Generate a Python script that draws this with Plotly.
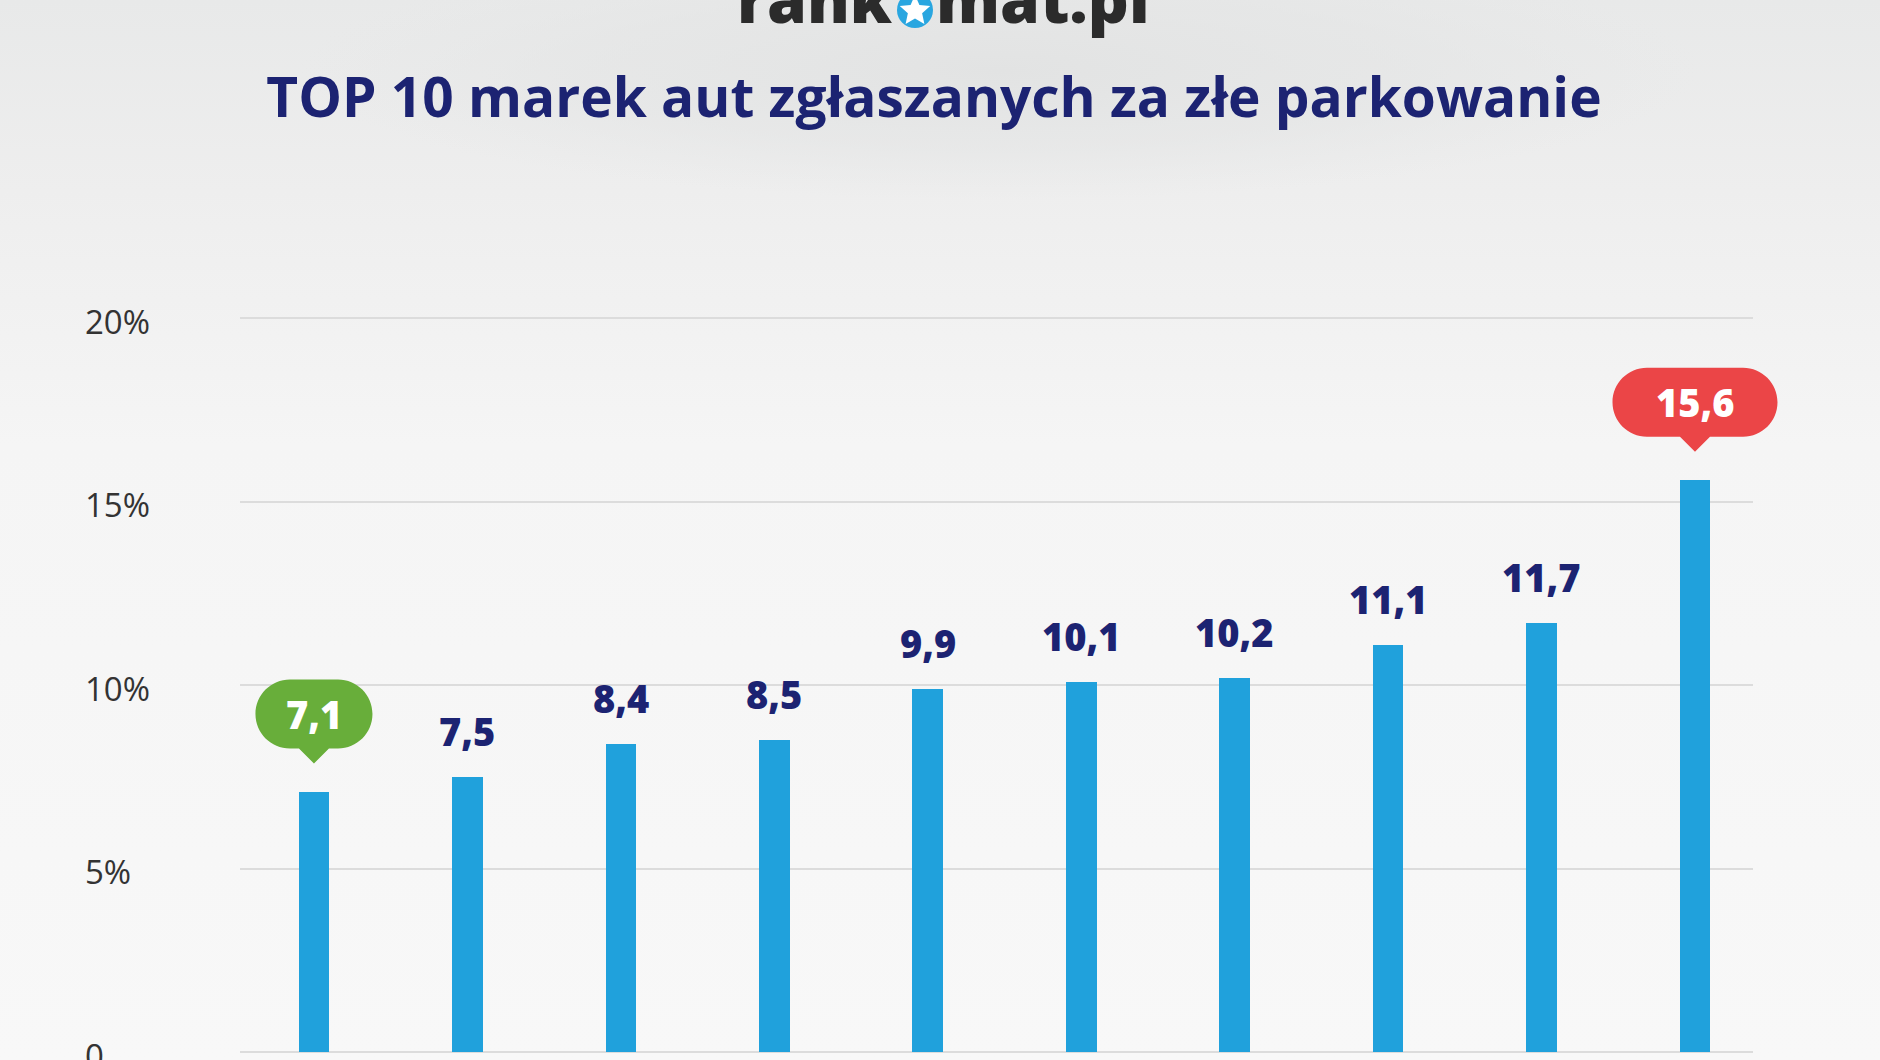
import base64
import math
import plotly.graph_objects as go

# ---- data ----
ranks = [1, 2, 3, 4, 5, 6, 7, 8, 9, 10]
values = [7.1, 7.5, 8.4, 8.5, 9.9, 10.1, 10.2, 11.1, 11.7, 15.6]
tick_vals = [0, 5, 10, 15, 20]
tick_text = ["0", "5%", "10%", "15%", "20%"]
title_text = "TOP 10 marek aut zgłaszanych za złe parkowanie"

# ---- layout geometry (pixels) ----
W, H = 1880, 1060
L, R, T, B = 240, 127, 245, 8
PW, PH = W - L - R, H - T - B
X_RANGE = [0.518, 10.378]
Y_RANGE = [0, 22]


def px_x(px):
    return (px - L) / PW


def px_y(py):
    return (H - B - py) / PH


def dom_x(v):
    return (v - X_RANGE[0]) / (X_RANGE[1] - X_RANGE[0])


def dom_y(v):
    return (v - Y_RANGE[0]) / (Y_RANGE[1] - Y_RANGE[0])


NAVY = "#1c2372"
BLUE = "#20a1dc"
GREEN = "#68ae3a"
RED = "#eb4547"
FONT = "Open Sans"

fmt = [f"{v:.1f}".replace(".", ",") for v in values]
i_min = values.index(min(values))
i_max = values.index(max(values))

fig = go.Figure()
fig.add_trace(go.Bar(x=ranks, y=values, width=0.2,
                     marker=dict(color=BLUE, line=dict(width=0)),
                     hoverinfo="skip"))

annotations = []
shapes = []

# value labels
for i, (r, v, t) in enumerate(zip(ranks, values, fmt)):
    if i in (i_min, i_max):
        continue
    annotations.append(dict(x=r, y=v, xref="x", yref="y", text=t, showarrow=False,
                            yshift=46, yanchor="middle",
                            font=dict(family=FONT, size=38, color=NAVY, weight=800)))


def badge_path(w, h=69, gap=28, tail_h=15, tail_w=30):
    k = 0.5523
    r = h / 2
    yb = gap + tail_h
    yt = yb + h
    xl, xr = -w / 2, w / 2
    ym = yb + r
    p = [f"M0,{gap}", f"L{tail_w/2},{yb}", f"L{xr-r},{yb}",
         f"C{xr-r+k*r},{yb} {xr},{ym-k*r} {xr},{ym}",
         f"C{xr},{ym+k*r} {xr-r+k*r},{yt} {xr-r},{yt}",
         f"L{xl+r},{yt}",
         f"C{xl+r-k*r},{yt} {xl},{ym+k*r} {xl},{ym}",
         f"C{xl},{ym-k*r} {xl+r-k*r},{yb} {xl+r},{yb}",
         f"L{-tail_w/2},{yb}", "Z"]
    return " ".join(p)


for idx, col, w in ((i_min, GREEN, 117), (i_max, RED, 165)):
    shapes.append(dict(type="path", xref="x domain", yref="y domain",
                       xsizemode="pixel", ysizemode="pixel",
                       xanchor=dom_x(ranks[idx]), yanchor=dom_y(values[idx]),
                       path=badge_path(w), fillcolor=col, line=dict(width=0), layer="above"))
    annotations.append(dict(x=ranks[idx], y=values[idx], xref="x", yref="y", text=fmt[idx],
                            showarrow=False, yshift=77.5, yanchor="middle",
                            font=dict(family=FONT, size=38, color="white", weight=800)))

# y tick labels, left aligned
for tv, tt in zip(tick_vals, tick_text):
    annotations.append(dict(x=px_x(83), y=tv, xref="paper", yref="y", text=tt, showarrow=False,
                            xanchor="left", yanchor="middle", yshift=-3,
                            font=dict(family=FONT, size=33, color="#333333", weight=400)))

# logo: rank(star)mat.pl
logo_font = dict(family=FONT, size=64, color="#2b2b2b", weight=800)
annotations.append(dict(x=px_x(895), y=px_y(-2), xref="paper", yref="paper", text="rank",
                        showarrow=False, xanchor="right", yanchor="middle", font=logo_font))
annotations.append(dict(x=px_x(934), y=px_y(-2), xref="paper", yref="paper", text="mat.pl",
                        showarrow=False, xanchor="left", yanchor="middle", font=logo_font))
cx, cy, cr = 915, 10, 18
shapes.append(dict(type="circle", xref="paper", yref="paper", x0=px_x(cx - cr), x1=px_x(cx + cr),
                   y0=px_y(cy + cr), y1=px_y(cy - cr), fillcolor="#29a6e0", line=dict(width=0),
                   layer="above"))
pts = []
for j in range(10):
    ang = math.pi / 2 + j * math.pi / 5
    rr = 16 if j % 2 == 0 else 7.5
    pts.append((rr * math.cos(ang), rr * math.sin(ang)))
star = "M" + " L".join(f"{x:.2f},{y:.2f}" for x, y in pts) + " Z"
shapes.append(dict(type="path", xref="paper", yref="paper", xsizemode="pixel", ysizemode="pixel",
                   xanchor=px_x(cx), yanchor=px_y(cy + 1), path=star, fillcolor="white",
                   line=dict(width=0), layer="above"))

# background gradient
svg = f"""<svg xmlns='http://www.w3.org/2000/svg' width='{W}' height='{H}' viewBox='0 0 {W} {H}' preserveAspectRatio='none'>
<defs>
<linearGradient id='g' x1='0' y1='0' x2='0' y2='1'>
<stop offset='0' stop-color='#e8e9e9'/>
<stop offset='0.18' stop-color='#eeeeee'/>
<stop offset='0.42' stop-color='#f5f5f5'/>
<stop offset='1' stop-color='#f8f8f8'/>
</linearGradient>
<radialGradient id='r' cx='0.5' cy='0.5' r='0.5'>
<stop offset='0' stop-color='#e2e3e3' stop-opacity='1'/>
<stop offset='0.6' stop-color='#e4e5e5' stop-opacity='0.6'/>
<stop offset='1' stop-color='#e6e7e7' stop-opacity='0'/>
</radialGradient>
</defs>
<rect x='0' y='0' width='{W}' height='{H}' fill='url(#g)'/>
<ellipse cx='1000' cy='70' rx='700' ry='130' fill='url(#r)'/>
</svg>"""
src = "data:image/svg+xml;base64," + base64.b64encode(svg.encode()).decode()

fig.update_layout(
    width=W, height=H,
    margin=dict(l=L, r=R, t=T, b=B, pad=0),
    paper_bgcolor="#f6f6f6", plot_bgcolor="rgba(0,0,0,0)",
    showlegend=False,
    bargap=0,
    images=[dict(source=src, xref="paper", yref="paper", x=px_x(0), y=px_y(0),
                 sizex=W / PW, sizey=H / PH, sizing="stretch", layer="below",
                 xanchor="left", yanchor="top")],
    title=dict(text=title_text, xref="container", yref="container", x=934 / W, y=1 - 98 / H,
               xanchor="center", yanchor="middle",
               font=dict(family=FONT, size=55, color=NAVY, weight=700)),
    xaxis=dict(range=X_RANGE, showgrid=False, zeroline=False, showticklabels=False,
               ticks="", showline=False, fixedrange=True),
    yaxis=dict(range=Y_RANGE, tickvals=tick_vals, showticklabels=False, ticks="",
               showgrid=True, gridcolor="#dcdcdc", gridwidth=2, zeroline=True,
               zerolinecolor="#dcdcdc", zerolinewidth=2, showline=False, fixedrange=True),
    annotations=annotations,
    shapes=shapes,
)

fig.write_html("out.html")
